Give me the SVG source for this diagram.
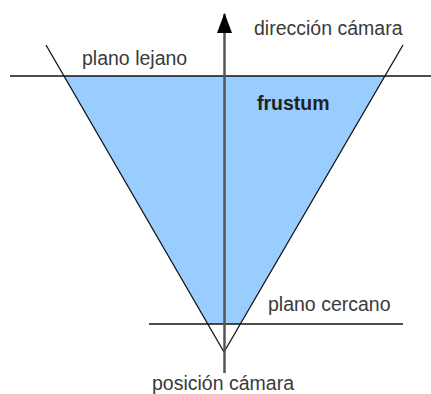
<svg xmlns="http://www.w3.org/2000/svg" width="431" height="394" viewBox="0 0 431 394">
<style>
.lbl{font-family:"Liberation Sans",Arial,sans-serif;font-size:19.5px;fill:#3a3a3a}
.b{font-weight:bold;fill:#222}
.ln{stroke:#111;stroke-width:1.3;fill:none}
</style>
<defs>
<marker id="ah" markerWidth="20" markerHeight="15" refX="19" refY="7.5" orient="auto" markerUnits="userSpaceOnUse" viewBox="0 0 20 15">
<path d="M20 7.5 L0 0 L0 15 Z" fill="#000"/>
</marker>
</defs>
<rect width="431" height="394" fill="#fff"/>
<g id="frustum">
<polygon points="64,76 385,76 240,324 208,324" fill="#99ccff"/>
</g>
<g id="connectors">
<line class="ln" x1="10" y1="76" x2="431" y2="76"/>
<line class="ln" x1="149" y1="324" x2="403" y2="324"/>
<line class="ln" x1="46" y1="45" x2="224" y2="352"/>
<line class="ln" x1="403" y1="45" x2="224" y2="352"/>
<line x1="224.5" y1="373" x2="224.5" y2="14" stroke="#555" stroke-width="2.5" marker-end="url(#ah)"/>
</g>
<g id="labels">
<text class="lbl" x="254" y="35">dirección cámara</text>
<text class="lbl" x="82" y="65">plano lejano</text>
<text class="lbl b" x="257" y="110">frustum</text>
<text class="lbl" x="268" y="311">plano cercano</text>
<text class="lbl" x="152" y="390">posición cámara</text>
</g>
</svg>
